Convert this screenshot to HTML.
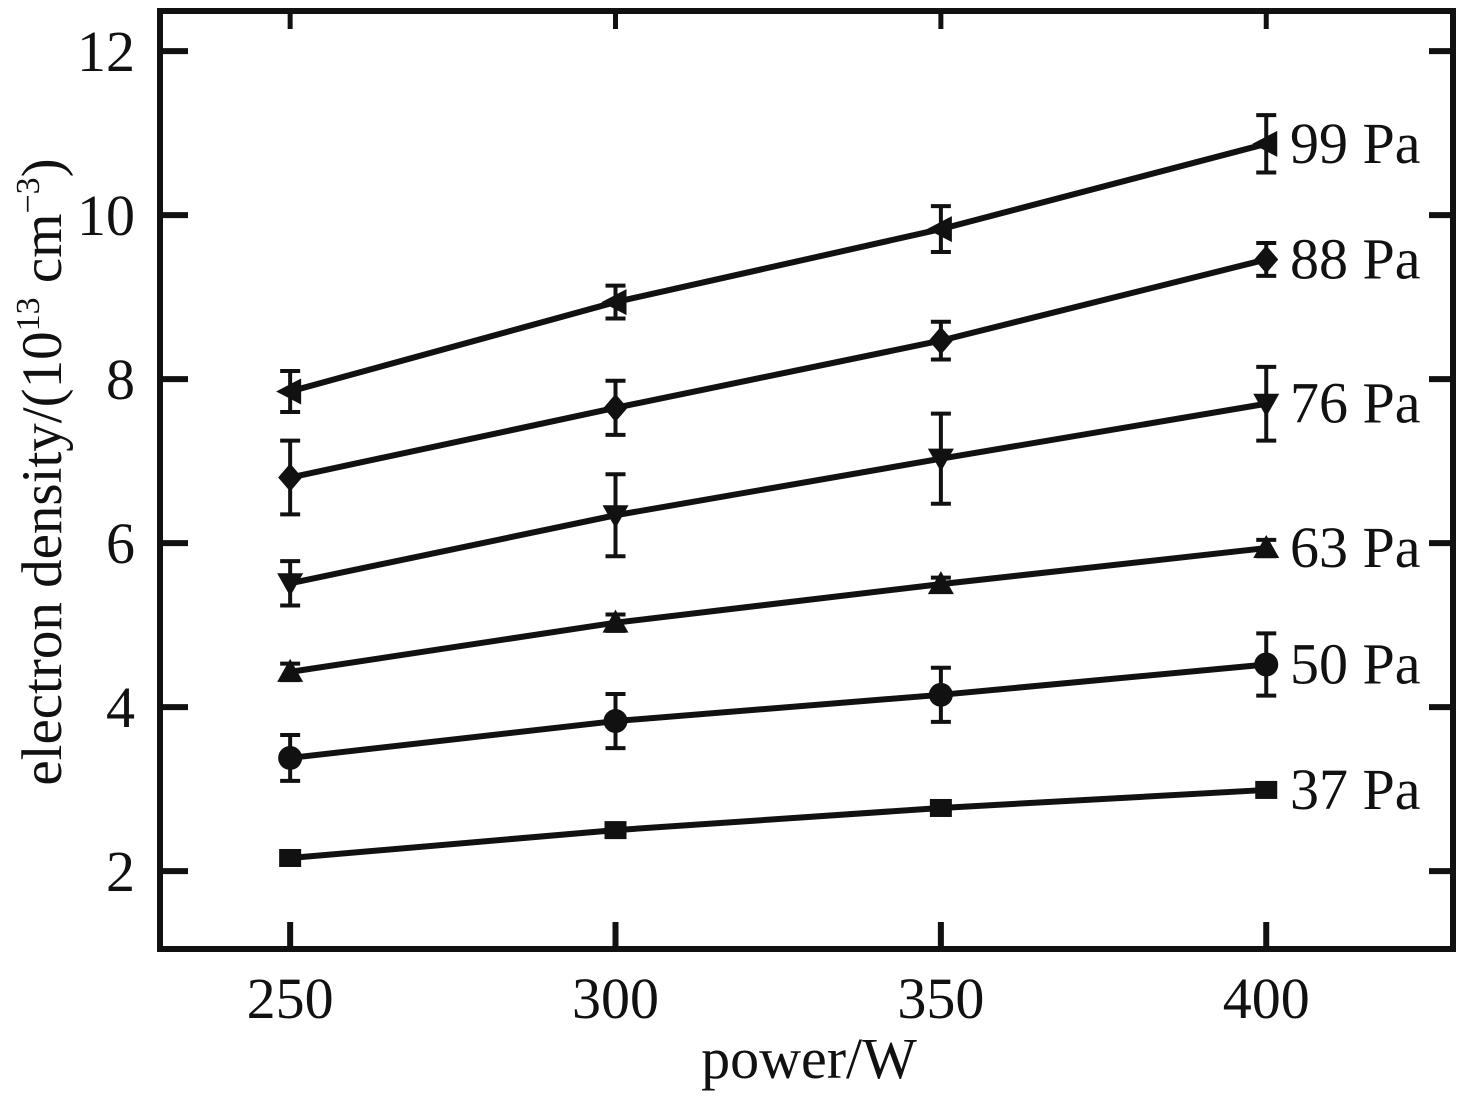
<!DOCTYPE html>
<html><head><meta charset="utf-8"><style>
html,body{margin:0;padding:0;background:#fff;}
svg{display:block;font-family:"Liberation Serif",serif;}
</style></head><body>
<svg id="chart" width="1469" height="1097" viewBox="0 0 1469 1097"></svg>
<script>
const powers = [250, 300, 350, 400];
const seriesLabels = ["37 Pa", "50 Pa", "63 Pa", "76 Pa", "88 Pa", "99 Pa"];
const markers = ["square", "circle", "triangle-up", "triangle-down", "diamond", "triangle-left"];
const values37 = [2.16, 2.50, 2.77, 2.99];
const values50 = [3.38, 3.83, 4.15, 4.52];
const values63 = [4.43, 5.03, 5.50, 5.94];
const values76 = [5.51, 6.34, 7.03, 7.70];
const values88 = [6.80, 7.65, 8.47, 9.46];
const values99 = [7.85, 8.94, 9.83, 10.87];
const err37 = [0, 0, 0, 0];
const err50 = [0.28, 0.33, 0.33, 0.38];
const err63 = [0.1, 0.1, 0.08, 0.1];
const err76 = [0.27, 0.5, 0.55, 0.45];
const err88 = [0.45, 0.33, 0.23, 0.2];
const err99 = [0.25, 0.2, 0.28, 0.35];
const xTicks = [250, 300, 350, 400];
const yTicks = [2, 4, 6, 8, 10, 12];

const allValues = [values37, values50, values63, values76, values88, values99];
const allErr = [err37, err50, err63, err76, err88, err99];
const NS = "http://www.w3.org/2000/svg";
const svg = document.getElementById("chart");
const L = 160, R = 1453, T = 11, B = 949;
const xMin = 230, xMax = 428.7, yMin = 1.05, yMax = 12.49;
const xs = v => L + (v - xMin) / (xMax - xMin) * (R - L);
const ys = v => B - (v - yMin) / (yMax - yMin) * (B - T);
function mk(tag, attrs, parent) {
  const e = document.createElementNS(NS, tag);
  for (const k in attrs) e.setAttribute(k, attrs[k]);
  (parent || svg).appendChild(e);
  return e;
}
yTicks.forEach(t => {
  const g = mk("g", {});
  
  
  mk("line", {x1: L, x2: L + 28, y1: ys(t), y2: ys(t), stroke: "#111", "stroke-width": 6}, g);
  mk("line", {x1: R - 24, x2: R, y1: ys(t), y2: ys(t), stroke: "#111", "stroke-width": 6}, g);
  const tx = mk("text", {x: 135, y: ys(t) + 20, "text-anchor": "end", "font-size": 58, fill: "#111"}, g);
  tx.textContent = t;
});
xTicks.forEach(t => {
  const g = mk("g", {});
  
  
  mk("line", {x1: xs(t), x2: xs(t), y1: B, y2: B - 27, stroke: "#111", "stroke-width": 6}, g);
  mk("line", {x1: xs(t), x2: xs(t), y1: T, y2: T + 18, stroke: "#111", "stroke-width": 5}, g);
  const tx = mk("text", {x: xs(t), y: 1018, "text-anchor": "middle", "font-size": 58, fill: "#111"}, g);
  tx.textContent = t;
});
const frame = mk("rect", {x: L, y: T, width: R - L, height: B - T, fill: "none", stroke: "#111", "stroke-width": 6});



function marker(type, cx, cy, g) {
  let el;
  if (type === "square") el = mk("rect", {x: cx - 11, y: cy - 9, width: 22, height: 18}, g);
  else if (type === "circle") el = mk("circle", {cx, cy, r: 12}, g);
  else {
    let p;
    if (type === "triangle-up") p = [[cx, cy - 13], [cx + 13, cy + 10], [cx - 13, cy + 10]];
    else if (type === "triangle-down") p = [[cx - 13, cy - 10], [cx + 13, cy - 10], [cx, cy + 13]];
    else if (type === "diamond") p = [[cx, cy - 14], [cx + 12, cy], [cx, cy + 14], [cx - 12, cy]];
    else p = [[cx - 14, cy], [cx + 11, cy - 13], [cx + 11, cy + 13]];
    el = mk("polygon", {points: p.map(q => q.join(",")).join(" ")}, g);
  }
  el.setAttribute("fill", "#111");
  return el;
}
allValues.forEach((vals, si) => {
  const g = mk("g", {});
  
  
  mk("polyline", {points: vals.map((v, i) => xs(powers[i]) + "," + ys(v)).join(" "), fill: "none", stroke: "#111", "stroke-width": 6}, g);
  vals.forEach((v, i) => {
    const e = allErr[si][i], x = xs(powers[i]);
    if (e > 0) {
      mk("line", {x1: x, x2: x, y1: ys(v + e), y2: ys(v - e), stroke: "#111", "stroke-width": 4}, g);
      mk("line", {x1: x - 10, x2: x + 10, y1: ys(v + e), y2: ys(v + e), stroke: "#111", "stroke-width": 4}, g);
      mk("line", {x1: x - 10, x2: x + 10, y1: ys(v - e), y2: ys(v - e), stroke: "#111", "stroke-width": 4}, g);
    }
    const m = marker(markers[si], x, ys(v), g);
    
    
  });
  const lab = mk("text", {x: 1290, y: ys(vals[3]) + 19, "font-size": 58, fill: "#111"}, g);
  
  
  lab.textContent = seriesLabels[si];
});
const xt = mk("text", {x: 809, y: 1078, "text-anchor": "middle", "font-size": 58, fill: "#111"});


xt.textContent = "power/W";
const yt = mk("text", {transform: "translate(61,472) rotate(-90)", "text-anchor": "middle", "font-size": 57, fill: "#111"});


yt.innerHTML = 'electron density/(10<tspan dy="-22" font-size="34">13</tspan><tspan dy="22"> cm</tspan><tspan dy="-22" font-size="34">−3</tspan><tspan dy="22">)</tspan>';
</script>
</body></html>
